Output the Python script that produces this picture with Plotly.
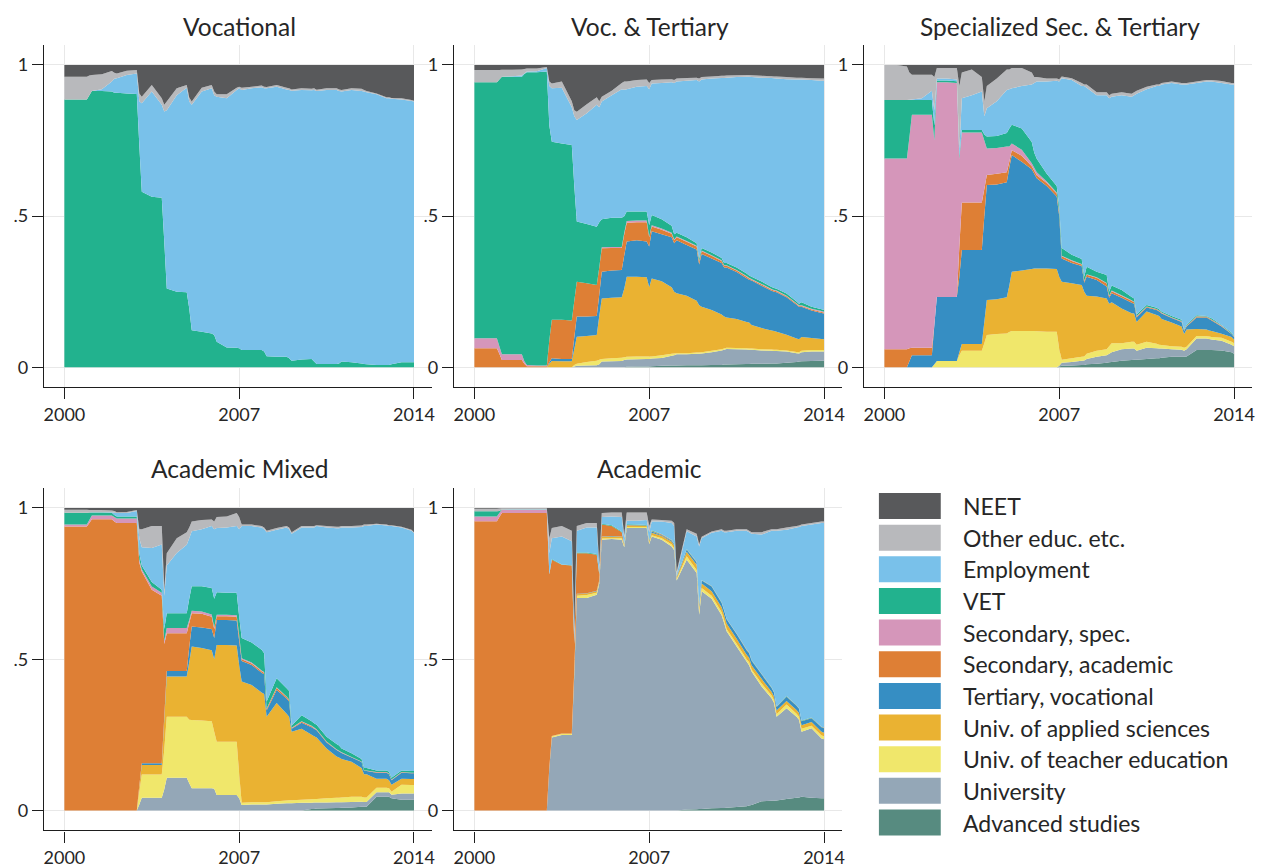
import plotly.graph_objects as go

# ---------------- data ----------------
YEARS = [2000.0, 2000.5, 2000.9, 2001.0, 2001.1, 2001.5, 2001.9, 2002.0, 2002.1, 2002.5,
         2002.9, 2003.0, 2003.1, 2003.5, 2003.9, 2004.0, 2004.1, 2004.5, 2004.9, 2005.0,
         2005.1, 2005.5, 2005.9, 2006.0, 2006.1, 2006.5, 2006.9, 2007.0, 2007.1, 2007.5,
         2007.9, 2008.0, 2008.1, 2008.5, 2008.9, 2009.0, 2009.1, 2009.5, 2009.9, 2010.0,
         2010.1, 2010.5, 2010.9, 2011.0, 2011.1, 2011.5, 2011.9, 2012.0, 2012.1, 2012.5,
         2012.9, 2013.0, 2013.1, 2013.5, 2013.9, 2014.0]

# stacking order: bottom -> top
SERIES_KEYS = ["ADV", "UNIV", "TEACH", "UAS", "TV", "SA", "SS", "VET", "EMP", "OTH", "NEET"]
LABELS = ["Advanced studies", "University", "Univ. of teacher education", "Univ. of applied sciences",
          "Tertiary, vocational", "Secondary, academic", "Secondary, spec.", "VET", "Employment",
          "Other educ. etc.", "NEET"]
COLORS = ["#578b80", "#94a7b7", "#f0e76b", "#eab232", "#368ec3", "#de7f35", "#d596ba",
          "#22b28e", "#79c1ea", "#b8b9bc", "#58595b"]

PANEL_TITLES = ["Vocational", "Voc. & Tertiary", "Specialized Sec. & Tertiary", "Academic Mixed", "Academic"]
X_TICKS = [2000, 2007, 2014]
Y_TICKS = [0, 0.5, 1]
Y_TICK_TEXT = ["0", ".5", "1"]

# Panel 1: Vocational
VOC_VET = [.886, .886, .886, .900, .914, .914, .912, .908, .908, .906,
           .904, .735, .581, .564, .561, .416, .261, .250, .248, .195,
           .123, .118, .112, .107, .085, .066, .065, .063, .057, .057,
           .057, .052, .037, .035, .035, .030, .022, .026, .028, .019,
           .011, .011, .011, .013, .019, .017, .013, .011, .010, .008,
           .008, .008, .010, .017, .017, .017]
VOC_EMP = [0, 0, 0, 0, 0, .006, .033, .046, .048, .061,
           .068, .145, .292, .348, .307, .430, .589, .650, .677, .684,
           .745, .794, .811, .793, .810, .824, .852, .860, .860, .866,
           .869, .871, .886, .893, .884, .887, .893, .891, .888, .898,
           .903, .906, .906, .901, .893, .900, .901, .901, .900, .895,
           .882, .882, .878, .869, .864, .862]
VOC_OTH = [.075, .075, .075, .065, .053, .049, .035, .020, .016, .014,
           .011, .026, .022, .022, .022, .022, .029, .023, .009, .013,
           .011, .013, .011, .012, .008, .013, .008, .005, .008, .005,
           .006, .005, .004, .006, .006, .006, .004, .006, .005, .006,
           .004, .006, .006, .005, .005, .006, .007, .005, .004, .003,
           .003, .003, .003, .004, .003, .003]
VOC_NEET = [.039, .039, .039, .035, .033, .031, .020, .026, .028, .019,
            .017, .094, .105, .066, .110, .132, .121, .077, .066, .108,
            .121, .075, .066, .088, .097, .097, .075, .072, .075, .072,
            .068, .072, .073, .066, .075, .077, .081, .077, .079, .077,
            .082, .077, .077, .081, .083, .077, .079, .083, .086, .094,
            .107, .107, .109, .110, .116, .118]

# Panel 2: Voc. & Tertiary
VT_ADV = [0, 0, 0, 0, 0, 0, 0, 0, 0, 0,
          0, 0, 0, 0, 0, 0, 0, 0, 0, 0,
          0, 0, 0, 0, .002, .003, .003, .003, .004, .005,
          .006, .006, .006, .007, .007, .007, .007, .008, .008, .009,
          .009, .01, .011, .011, .012, .012, .013, .013, .013, .015,
          .018, .019, .02, .021, .022, .022]
VT_UNIV = [0, 0, 0, 0, 0, 0, 0, 0, 0, 0,
           0, 0, 0, 0, 0, .003, .005, .006, .007, .01,
           .019, .02, .021, .024, .024, .024, .025, .025, .025, .026,
           .032, .034, .037, .036, .038, .038, .039, .042, .048, .049,
           .052, .05, .048, .047, .046, .044, .042, .041, .041, .037,
           .029, .027, .03, .031, .03, .03]
VT_TEACH = [0, 0, 0, 0, 0, 0, 0, 0, 0, 0,
            0, 0, 0, 0, 0, .005, .007, .012, .015, .015,
            .009, .01, .011, .009, .009, .009, .008, .008, .007, .009,
            .007, .006, .004, .004, .004, .004, .004, .005, .004, .004,
            .004, .004, .004, .004, .004, .004, .004, .004, .004, .004,
            .004, .004, .005, .005, .005, .005]
VT_UAS = [0, 0, 0, 0, 0, 0, 0, 0, 0, 0,
          0, .012, .021, .02, .02, .052, .089, .086, .085, .145,
          .2, .2, .2, .227, .265, .264, .262, .229, .258, .245,
          .22, .204, .198, .19, .171, .156, .15, .135, .115, .106,
          .1, .096, .087, .086, .078, .07, .063, .062, .06, .052,
          .044, .043, .045, .04, .037, .036]
VT_TV = [0, 0, 0, 0, 0, 0, 0, 0, 0, 0,
         0, .005, .009, .008, .008, .04, .067, .064, .063, .07,
         .088, .09, .09, .11, .116, .12, .118, .135, .156, .155,
         .165, .16, .175, .168, .17, .135, .175, .17, .17, .162,
         .165, .155, .145, .142, .147, .14, .131, .13, .13, .124,
         .112, .107, .1, .091, .086, .085]
VT_SA = [.063, .063, .063, .045, .024, .024, .024, .012, .004, .004,
         .004, .073, .127, .129, .127, .12, .115, .11, .102, .09,
         .078, .075, .073, .07, .062, .06, .064, .03, .016, .015,
         .012, .01, .01, .01, .01, .01, .009, .009, .007, .006,
         .006, .005, .005, .004, .003, .004, .004, .004, .004, .003,
         .003, .003, .003, .003, .003, .003]
VT_SS = [.033, .033, .033, .025, .019, .019, .019, .008, .004, .002,
         .002, 0, 0, 0, 0, 0, 0, 0, 0, 0,
         .003, .003, .003, .005, .006, .006, .006, .003, .004, .004,
         .003, .003, .003, .003, .002, .002, .002, .002, .002, .002,
         .002, .002, .002, .002, .002, .002, .002, .002, .002, .002,
         .002, .002, .002, .003, .003, .003]
VT_VET = [.847, .847, .847, .882, .918, .918, .918, .95, .968, .97,
          .972, .71, .589, .583, .58, .38, .199, .196, .193, .15,
          .093, .097, .097, .055, .031, .029, .029, .037, .034, .031,
          .023, .017, .012, .012, .008, .008, .009, .009, .008, .007,
          .007, .008, .008, .008, .008, .008, .007, .006, .006, .007,
          .006, .005, .01, .006, .006, .006]
VT_EMP = [0, 0, 0, 0, 0, .002, .004, .002, .002, .003,
          .012, .13, .177, .185, .125, .23, .336, .366, .403, .38,
          .389, .405, .425, .418, .405, .413, .415, .45, .435, .45,
          .475, .5, .5, .518, .54, .585, .557, .575, .595, .612,
          .613, .63, .651, .657, .66, .674, .691, .694, .695, .709,
          .734, .742, .737, .75, .756, .758]
VT_OTH = [.04, .04, .04, .031, .023, .021, .02, .015, .01, .009,
          .003, .015, .016, .02, .02, .02, .027, .03, .025, .02,
          .016, .015, .02, .027, .025, .022, .022, .02, .011, .012,
          .01, .01, .01, .009, .008, .01, .008, .007, .007, .007,
          .007, .006, .006, .006, .006, .006, .006, .006, .007, .007,
          .006, .006, .006, .006, .007, .007]
VT_NEET = [.017, .017, .017, .017, .016, .016, .015, .013, .012, .012,
           .007, .055, .061, .055, .12, .15, .155, .13, .107, .12,
           .105, .085, .06, .055, .055, .05, .048, .06, .05, .048,
           .047, .05, .045, .043, .042, .045, .04, .038, .036, .036,
           .035, .034, .033, .033, .034, .036, .037, .038, .038, .04,
           .042, .042, .042, .044, .045, .045]

# Panel 3: Specialized Sec. & Tertiary
SST_ADV = [0, 0, 0, 0, 0, 0, 0, 0, 0, 0,
           0, 0, 0, 0, 0, 0, 0, 0, 0, 0,
           0, 0, 0, 0, 0, 0, 0, .003, .005, .006,
           .008, .008, .01, .012, .015, .017, .018, .022, .024, .025,
           .025, .028, .03, .03, .032, .035, .035, .035, .036, .057,
           .057, .057, .057, .056, .05, .045]
SST_UNIV = [0, 0, 0, 0, 0, 0, 0, 0, 0, 0,
            0, 0, 0, 0, 0, 0, 0, 0, 0, 0,
            0, 0, 0, 0, 0, 0, 0, .002, .01, .012,
            .014, .015, .018, .023, .025, .028, .032, .038, .038, .037,
            .03, .037, .033, .032, .03, .025, .023, .02, .024, .038,
            .038, .037, .035, .032, .025, .025]
SST_TEACH = [0, 0, 0, 0, 0, 0, 0, .01, .021, .021,
             .021, .04, .055, .055, .055, .08, .107, .11, .112, .117,
             .12, .12, .12, .12, .119, .118, .118, .055, .01, .012,
             .013, .013, .017, .02, .02, .025, .03, .02, .023, .023,
             .02, .02, .015, .013, .012, .01, .01, .01, .008, .009,
             .008, .008, .008, .01, .01, .01]
SST_UAS = [0, 0, 0, 0, 0, 0, 0, 0, 0, 0,
           0, .01, .022, .022, .022, .07, .116, .115, .12, .153,
           .196, .2, .205, .207, .208, .209, .207, .24, .258, .248,
           .237, .214, .192, .179, .168, .14, .135, .115, .094, .093,
           .075, .1, .095, .095, .086, .078, .067, .045, .057, .023,
           .022, .02, .02, .013, .015, .012]
SST_TV = [0, 0, 0, .02, .04, .04, .04, .13, .212, .212,
          .212, .25, .311, .311, .311, .35, .38, .38, .38, .39,
          .386, .36, .33, .313, .298, .273, .24, .2, .077, .067,
          .063, .03, .063, .055, .039, .02, .03, .035, .035, .032,
          .015, .013, .017, .015, .018, .015, .015, .01, .01, .038,
          .04, .038, .035, .024, .01, .008]
SST_SA = [.06, .06, .06, .043, .025, .025, .025, 0, 0, 0,
          0, .1, .157, .157, .157, .09, .033, .035, .033, .02,
          .016, .02, .01, .01, .01, .01, .01, .01, .007, .007,
          .005, .005, .006, .007, .01, .005, .007, .006, .006, .005,
          .003, .002, .002, .002, .002, .002, .002, .002, .002, .003,
          .002, .002, .002, .002, .001, .001]
SST_SS = [.631, .631, .631, .697, .77, .77, .77, .61, .71, .71,
          .707, .29, .232, .232, .232, .16, .088, .085, .085, .05,
          .022, .02, .01, .01, .01, .005, .003, .002, .002, .002,
          .002, .002, .002, .002, .002, .002, .002, .002, .002, .002,
          .002, .001, .001, .001, .001, .001, .001, .001, .001, .001,
          .001, .001, .001, .001, .001, .001]
SST_VET = [.193, .193, .193, .124, .049, .049, .049, .05, .006, .006,
           .006, .01, .008, .008, .008, .02, .039, .04, .045, .06,
           .062, .07, .07, .05, .045, .025, .022, .018, .026, .018,
           .016, .013, .025, .018, .026, .013, .017, .018, .011, .011,
           .005, .005, .004, .004, .004, .004, .004, .002, .004, .003,
           .002, .003, .004, .002, .003, .002]
SST_EMP = [0, 0, 0, .001, .002, .006, .031, .05, .006, .006,
           .006, .02, .105, .115, .127, .06, .094, .115, .142, .13,
           .121, .14, .19, .23, .255, .305, .348, .415, .561, .578,
           .572, .63, .592, .584, .595, .64, .624, .644, .662, .672,
           .73, .714, .733, .738, .75, .77, .778, .81, .793, .768,
           .775, .779, .783, .8, .82, .831]
SST_OTH = [.116, .116, .111, .09, .082, .078, .053, .11, .035, .035,
           .038, .21, .085, .085, .048, .05, .073, .075, .068, .065,
           .067, .06, .04, .02, .015, .01, .007, .008, .006, .006,
           .01, .005, .01, .01, .01, .01, .01, .01, .01, .01,
           .01, .008, .005, .005, .005, .005, .005, .005, .005, .005,
           .005, .005, .005, .007, .005, .005]
SST_NEET = [0, 0, .005, .025, .032, .032, .032, .04, .01, .01,
            .01, .07, .025, .015, .04, .12, .07, .045, .015, .015,
            .01, .01, .025, .04, .04, .045, .045, .047, .038, .044,
            .06, .065, .065, .09, .09, .1, .095, .09, .095, .09,
            .085, .072, .065, .065, .06, .055, .06, .06, .06, .055,
            .05, .05, .05, .053, .06, .06]

# Panel 4: Academic Mixed
AM_ADV = [0, 0, 0, 0, 0, 0, 0, 0, 0, 0,
          0, 0, 0, 0, 0, 0, 0, 0, 0, 0,
          0, 0, 0, 0, 0, 0, 0, 0, 0, 0,
          0, 0, 0, 0, 0, 0, 0, 0, .005, .005,
          .006, .007, .008, .008, .009, .01, .012, .012, .012, .045,
          .045, .045, .04, .035, .035, .035]
AM_UNIV = [0, 0, 0, 0, 0, 0, 0, 0, 0, 0,
           0, .02, .042, .042, .042, .07, .108, .108, .108, .09,
           .073, .073, .073, .072, .051, .051, .051, .04, .018, .02,
           .02, .02, .02, .022, .024, .024, .024, .025, .02, .021,
           .02, .019, .019, .019, .018, .018, .017, .016, .016, .015,
           .015, .015, .012, .021, .021, .021]
AM_TEACH = [0, 0, 0, 0, 0, 0, 0, 0, 0, 0,
            0, .04, .077, .077, .077, .13, .202, .202, .202, .21,
            .226, .224, .222, .188, .176, .176, .176, .08, .007, .007,
            .007, .007, .007, .008, .009, .01, .01, .01, .012, .012,
            .012, .014, .015, .015, .016, .017, .016, .015, .015, .015,
            .015, .013, .01, .029, .028, .028]
AM_UAS = [0, 0, 0, 0, 0, 0, 0, 0, 0, 0,
          0, .02, .031, .031, .031, .1, .133, .133, .133, .19,
          .243, .24, .235, .24, .32, .32, .318, .36, .401, .388,
          .363, .358, .283, .325, .287, .276, .226, .235, .213, .207,
          .203, .165, .136, .133, .127, .116, .095, .077, .077, .03,
          .03, .027, .023, .02, .02, .02]
AM_TV = [0, 0, 0, 0, 0, 0, 0, 0, 0, 0,
         0, .002, .006, .006, .006, .01, .018, .018, .018, .05,
         .066, .068, .07, .07, .083, .083, .083, .08, .068, .066,
         .065, .065, .02, .043, .05, .05, .01, .02, .025, .025,
         .024, .02, .022, .02, .02, .014, .02, .01, .01, .02,
         .02, .02, .015, .02, .019, .019]
AM_SA = [.939, .939, .939, .95, .963, .963, .963, .955, .95, .95,
         .95, .738, .634, .574, .554, .24, .125, .125, .125, .08,
         .044, .045, .04, .03, .012, .012, .012, .015, .006, .005,
         .005, .005, .005, .007, .005, .005, .002, .003, .003, .002,
         .002, .002, .001, .001, .001, .001, .001, .001, .001, .001,
         .001, .001, .001, .001, .001, .001]
AM_SS = [.006, .006, .006, .01, .012, .012, .012, .015, .015, .015,
         .015, .01, .007, .01, .01, .01, .017, .017, .017, .01,
         .008, .008, .008, .006, .005, .005, .005, .005, .003, .003,
         .003, .003, .002, .002, .002, .002, .001, .002, .002, .002,
         .001, .001, .001, .001, .001, .001, .001, .001, .001, .001,
         .001, .001, .001, .001, .001, .001]
AM_VET = [.039, .039, .039, .025, .01, .01, .009, .007, .007, .007,
          .007, .02, .013, .015, .01, .04, .049, .049, .049, .07,
          .081, .083, .087, .094, .074, .073, .075, .06, .067, .066,
          .068, .062, .023, .03, .027, .028, .007, .02, .015, .014,
          .015, .016, .018, .018, .013, .012, .008, .008, .008, .005,
          .005, .006, .006, .005, .005, .005]
AM_EMP = [0, 0, 0, 0, .001, .001, .002, .007, .011, .011,
          .018, .05, .06, .113, .149, .11, .158, .199, .226, .2,
          .182, .189, .205, .23, .213, .215, .22, .29, .37, .385,
          .404, .41, .56, .491, .531, .535, .635, .62, .64, .647,
          .657, .691, .713, .718, .73, .746, .767, .8, .8, .813,
          .81, .812, .832, .803, .795, .787]
AM_OTH = [.01, .01, .01, .008, .007, .007, .006, .006, .003, .004,
          .003, .03, .06, .072, .061, .02, .04, .049, .042, .035,
          .032, .03, .022, .025, .036, .037, .043, .04, .005, .005,
          .005, .005, .005, .006, .005, .005, .005, .005, .005, .005,
          .003, .005, .005, .005, .005, .005, .005, .005, .005, .003,
          .003, .003, .003, .003, .003, .003]
AM_NEET = [.006, .006, .006, .007, .007, .007, .008, .01, .014, .013,
           .007, .07, .07, .06, .06, .27, .15, .1, .08, .065,
           .045, .04, .038, .045, .03, .028, .017, .03, .055, .055,
           .06, .065, .075, .066, .06, .065, .08, .06, .06, .06,
           .057, .06, .062, .062, .06, .06, .058, .055, .055, .052,
           .055, .057, .057, .062, .072, .08]

# Panel 5: Academic
AC_ADV = [0, 0, 0, 0, 0, 0, 0, 0, 0, 0,
          0, 0, 0, 0, 0, 0, 0, 0, 0, 0,
          0, 0, 0, 0, 0, 0, 0, 0, 0, 0,
          0, 0, 0, .003, .004, .005, .005, .007, .008, .008,
          .009, .011, .014, .016, .018, .03, .032, .032, .033, .038,
          .042, .043, .045, .042, .04, .04]
AC_UNIV = [0, 0, 0, 0, 0, 0, 0, 0, 0, 0,
           0, .14, .241, .249, .249, .45, .702, .702, .713, .75,
           .895, .897, .895, .87, .934, .934, .934, .88, .906, .895,
           .873, .86, .76, .826, .781, .642, .72, .693, .637, .612,
           .583, .531, .478, .464, .441, .38, .339, .323, .277, .3,
           .268, .257, .215, .23, .198, .195]
AC_TEACH = [0, 0, 0, 0, 0, 0, 0, 0, 0, 0,
            0, .002, .004, .004, .004, .01, .008, .01, .007, .005,
            .004, .003, .005, .004, .003, .003, .003, .005, .004, .005,
            .006, .006, .005, .011, .01, .013, .01, .01, .01, .01,
            .008, .009, .008, .01, .007, .01, .009, .009, .008, .012,
            .01, .01, .01, .008, .01, .01]
AC_UAS = [0, 0, 0, 0, 0, 0, 0, 0, 0, 0,
          0, 0, .001, .001, .001, .005, .005, .005, .005, .005,
          .006, .006, .005, .004, .004, .003, .003, .005, .008, .007,
          .009, .01, .005, .015, .017, .012, .015, .015, .017, .017,
          .018, .017, .015, .015, .014, .015, .012, .012, .012, .012,
          .012, .012, .012, .012, .012, .012]
AC_TV = [0, 0, 0, 0, 0, 0, 0, 0, 0, 0,
         0, 0, 0, 0, 0, .001, .001, .001, .001, .001,
         .001, .001, .001, .001, .001, .001, .001, .001, .004, .003,
         .004, .004, .002, .007, .008, .008, .01, .015, .014, .014,
         .014, .015, .015, .015, .015, .015, .013, .013, .012, .014,
         .014, .014, .013, .013, .015, .015]
AC_SA = [.956, .956, .956, .97, .983, .983, .983, .983, .983, .983,
         .983, .638, .583, .558, .556, .084, .134, .132, .119, .019,
         .039, .033, .014, .001, .002, .002, .001, .001, .002, .002,
         .001, .001, .001, .001, .001, .001, .001, .001, .001, .001,
         .001, .001, .001, .001, .001, .001, .001, .001, .001, .001,
         .001, .001, .001, .001, .001, .001]
AC_SS = [.016, .016, .016, .013, .011, .011, .011, .011, .011, .011,
         .011, 0, 0, 0, 0, 0, 0, 0, 0, 0,
         0, 0, 0, 0, 0, 0, 0, 0, 0, 0,
         0, 0, 0, 0, 0, 0, 0, 0, 0, 0,
         0, 0, 0, 0, 0, 0, 0, 0, 0, 0,
         0, 0, 0, 0, 0, 0]
AC_VET = [.017, .017, .017, .007, .001, .001, .001, .001, .001, .001,
          .001, 0, .002, .001, .001, .001, .003, .003, .003, .002,
          .003, .003, .002, .001, .002, .002, .002, .001, .002, .001,
          .001, .001, .001, .001, .001, .001, .001, .001, .001, .001,
          .001, .001, .001, .001, .001, .001, .001, .001, .001, .001,
          .001, .001, .001, .001, .001, .001]
AC_EMP = [0, 0, 0, 0, 0, .001, .001, .001, .001, .001,
          .001, .07, .069, .093, .079, .029, .072, .082, .087, .018,
          .022, .029, .048, .019, .012, .013, .016, .027, .029, .042,
          .056, .058, .006, .059, .084, .191, .138, .176, .237, .257,
          .286, .34, .393, .398, .418, .46, .518, .534, .581, .55,
          .587, .599, .643, .638, .673, .676]
AC_OTH = [.008, .008, .008, .008, .004, .003, .003, .003, .003, .003,
          .003, .05, .034, .034, .035, .02, .015, .015, .015, .012,
          .013, .013, .015, .01, .027, .027, .025, .02, .007, .005,
          .008, .01, .01, .007, .009, .007, .005, .004, .005, .005,
          .005, .005, .005, .005, .005, .008, .005, .005, .005, .007,
          .005, .005, .005, .005, .005, .005]
AC_NEET = [.003, .003, .003, .002, .001, .001, .001, .001, .001, .001,
           .001, .1, .066, .06, .075, .4, .06, .05, .05, .188,
           .017, .015, .015, .09, .015, .015, .015, .06, .038, .04,
           .042, .05, .21, .07, .085, .12, .095, .078, .07, .075,
           .075, .07, .07, .075, .08, .08, .07, .07, .07, .065,
           .06, .058, .055, .05, .045, .045]

PANELS = [
    {"VET": VOC_VET, "EMP": VOC_EMP, "OTH": VOC_OTH, "NEET": VOC_NEET},
    {"ADV": VT_ADV, "UNIV": VT_UNIV, "TEACH": VT_TEACH, "UAS": VT_UAS, "TV": VT_TV, "SA": VT_SA,
     "SS": VT_SS, "VET": VT_VET, "EMP": VT_EMP, "OTH": VT_OTH, "NEET": VT_NEET},
    {"ADV": SST_ADV, "UNIV": SST_UNIV, "TEACH": SST_TEACH, "UAS": SST_UAS, "TV": SST_TV, "SA": SST_SA,
     "SS": SST_SS, "VET": SST_VET, "EMP": SST_EMP, "OTH": SST_OTH, "NEET": SST_NEET},
    {"ADV": AM_ADV, "UNIV": AM_UNIV, "TEACH": AM_TEACH, "UAS": AM_UAS, "TV": AM_TV, "SA": AM_SA,
     "SS": AM_SS, "VET": AM_VET, "EMP": AM_EMP, "OTH": AM_OTH, "NEET": AM_NEET},
    {"ADV": AC_ADV, "UNIV": AC_UNIV, "TEACH": AC_TEACH, "UAS": AC_UAS, "TV": AC_TV, "SA": AC_SA,
     "SS": AC_SS, "VET": AC_VET, "EMP": AC_EMP, "OTH": AC_OTH, "NEET": AC_NEET},
]

bad = [(pi, k, len(v)) for pi, p in enumerate(PANELS) for k, v in p.items() if len(v) != len(YEARS)]
assert not bad, f"length mismatch: {bad}"

# ---------------- layout ----------------
W, H = 1263, 868
FONT = "Lato, 'Open Sans', 'DejaVu Sans', sans-serif"
TXT = "#262626"

def fx(p):
    return p / W

def fy(p):
    return 1 - p / H

X_PX = [(44, 433), (455, 844), (866, 1255), (44, 433), (455, 844)]
Y_PX = [(45, 387.3), (45, 387.3), (45, 387.3), (488, 830.4), (488, 830.4)]
TITLE_Y = [26, 26, 26, 468, 468]

fig = go.Figure()
layout = dict(
    width=W, height=H, margin=dict(l=0, r=0, t=0, b=0),
    paper_bgcolor="white", plot_bgcolor="white",
    showlegend=False, font=dict(family=FONT, color=TXT),
    annotations=[], shapes=[],
)

for i, panel in enumerate(PANELS):
    n = i + 1
    xa = "x" if n == 1 else f"x{n}"
    ya = "y" if n == 1 else f"y{n}"
    for key, label, color in zip(SERIES_KEYS, LABELS, COLORS):
        if key not in panel:
            continue
        fig.add_trace(go.Scatter(
            x=YEARS, y=panel[key], xaxis=xa, yaxis=ya,
            stackgroup=f"p{n}", mode="none", fillcolor=color,
            line=dict(width=0), name=label, hoverinfo="skip",
        ))
    (x0, x1), (ytop, ybot) = X_PX[i], Y_PX[i]
    common = dict(showline=True, linecolor="#1e1e1e", linewidth=1.3,
                  ticks="outside", ticklen=11, tickwidth=1.3, tickcolor="#1e1e1e",
                  showgrid=True, gridcolor="#e8e8e8", gridwidth=1, zeroline=False,
                  tickfont=dict(family=FONT, size=18, color=TXT), fixedrange=True)
    layout["xaxis" if n == 1 else f"xaxis{n}"] = dict(
        common, domain=[fx(x0), fx(x1)], anchor=ya, range=[1999.18, 2014.72],
        tickmode="array", tickvals=X_TICKS, ticktext=[str(t) for t in X_TICKS])
    layout["yaxis" if n == 1 else f"yaxis{n}"] = dict(
        common, domain=[fy(ybot), fy(ytop)], anchor=xa, range=[-0.066, 1.066],
        tickmode="array", tickvals=Y_TICKS, ticktext=Y_TICK_TEXT)
    layout["annotations"].append(dict(
        text=PANEL_TITLES[i], xref="paper", yref="paper",
        x=fx((x0 + x1) / 2 + 2), y=fy(TITLE_Y[i]), xanchor="center", yanchor="middle",
        showarrow=False, font=dict(family=FONT, size=24.5, color=TXT)))

# legend drawn manually (NEET on top)
LEG_X0, LEG_X1, LEG_Y0, LEG_H, LEG_STEP, LEG_TX = 881, 943, 493, 26, 31.65, 963
for j, idx in enumerate(range(len(LABELS) - 1, -1, -1)):
    top = LEG_Y0 + j * LEG_STEP
    layout["shapes"].append(dict(
        type="rect", xref="paper", yref="paper",
        x0=fx(LEG_X0), x1=fx(LEG_X1), y0=fy(top + LEG_H), y1=fy(top),
        fillcolor=COLORS[idx], line=dict(width=0)))
    layout["annotations"].append(dict(
        text=LABELS[idx], xref="paper", yref="paper",
        x=fx(LEG_TX), y=fy(top + LEG_H / 2), xanchor="left", yanchor="middle",
        showarrow=False, font=dict(family=FONT, size=23, color=TXT)))

fig.update_layout(**layout)
fig.write_html(
    "out.html",
    config={"displayModeBar": False},
    post_script="document.body.style.margin='0';document.body.style.padding='0';"
                "document.body.style.overflow='hidden';",
)
